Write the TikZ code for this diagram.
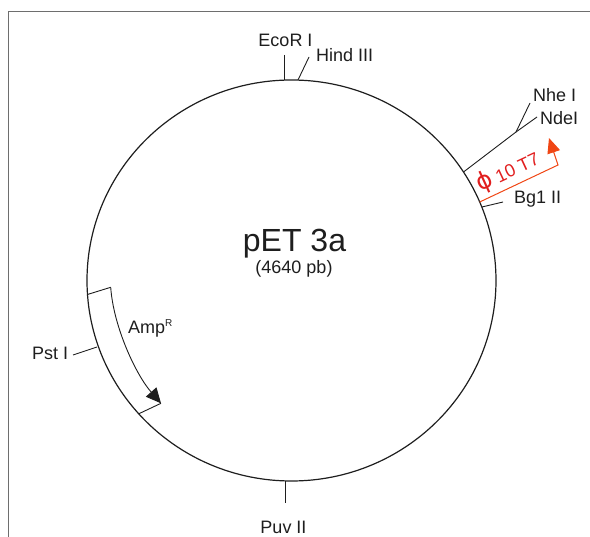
\documentclass[tikz,border=0pt]{standalone}
\usepackage{fontspec}
\setmainfont{Liberation Sans}
\newfontfamily\phifont{DejaVu Sans}
\usetikzlibrary{arrows.meta,calc}
\definecolor{ink}{RGB}{30,30,30}
\definecolor{framegray}{RGB}{110,110,110}
\definecolor{tred}{RGB}{225,30,30}
\definecolor{lred}{RGB}{240,70,20}
\begin{document}
\begin{tikzpicture}[x=1pt,y=-1pt,
  lbl/.style={inner sep=0pt,text=ink,font=\fontsize{18}{20}\selectfont},
  tick/.style={draw=ink,line width=0.9pt}]
\useasboundingbox (0,0) rectangle (590,537);
\draw[framegray,line width=1pt] (8,537) -- (8,12) -- (590,12);
\coordinate (C) at (291.5,280.5);
\draw[ink,line width=1.2pt] (C) ellipse [x radius=204.5, y radius=200.5];

% title
\node[lbl,font=\fontsize{32}{34}\selectfont,anchor=base] (title) at (294.5,252) {pET 3a};
\node[lbl,anchor=base] (size) at (294,274) {(4640 pb)};

% EcoR I
\coordinate (ecoA) at (284,55); \coordinate (ecoB) at (284,80);
\draw[tick] (ecoA) -- (ecoB);
\node[lbl,anchor=base] (eco) at (285.5,47) {EcoR I};
% Hind III
\coordinate (hinA) at (309,57); \coordinate (hinB) at (298,80);
\draw[tick] (hinA) -- (hinB);
\node[lbl,anchor=base west] (hin) at (316,62) {Hind III};
% Nhe I / NdeI
\coordinate (nheC) at (463.5,172); \coordinate (nheJ) at (516,132);
\coordinate (nheE) at (530,103); \coordinate (ndeE) at (537,117);
\draw[tick] (nheC) -- (nheJ) -- (nheE);
\draw[tick] (nheJ) -- (ndeE);
\node[lbl,anchor=base west] (nhe) at (533,102) {Nhe I};
\node[lbl,anchor=base west] (nde) at (540,125) {NdeI};
% T7 promoter
\coordinate (t7A) at (479.7,202); \coordinate (t7B) at (558,165); \coordinate (t7C) at (549,138);
\draw[lred,line width=1pt,-{Triangle[length=15pt,width=13pt]}] (t7A) -- (t7B) -- (t7C);
\node[inner sep=0pt,text=tred,anchor=base west,rotate=25] (t7) at (480,192)
  {{\phifont\fontsize{24}{24}\selectfont ϕ}\hspace{5pt}\fontsize{18}{20}\selectfont 10 T7};
% Bg1 II
\coordinate (bglA) at (482,207); \coordinate (bglB) at (503,202);
\draw[tick] (bglA) -- (bglB);
\node[lbl,anchor=base west] (bgl) at (514,204) {Bg1 II};
% Puv II
\coordinate (puvA) at (285,481); \coordinate (puvB) at (285,503);
\draw[tick] (puvA) -- (puvB);
\node[lbl,anchor=base] (puv) at (283.5,534) {Puv II};
% Pst I
\coordinate (pstA) at (73,355); \coordinate (pstB) at (97,347);
\draw[tick] (pstA) -- (pstB);
\node[lbl,anchor=base west] (pst) at (32,360) {Pst I};
% Amp R
\coordinate (ampOT) at ($(C)+(176:204.5 and 200.5)$);
\coordinate (ampIT) at (110.7,287.3);
\coordinate (ampIB) at (161,403.3);
\coordinate (ampOB) at (138.3,414);
\draw[tick] (ampOT) -- (ampIT);
\draw[tick,-{Triangle[length=15pt,width=14pt]}] (ampIT) .. controls (113.5,327) and (136,374.8) .. (ampIB);
\draw[tick] (ampIB) -- (ampOB);
\node[lbl,anchor=base west] (amp) at (128,334) {Amp\raisebox{7pt}{\fontsize{10}{10}\selectfont R}};
\end{tikzpicture}
\end{document}
